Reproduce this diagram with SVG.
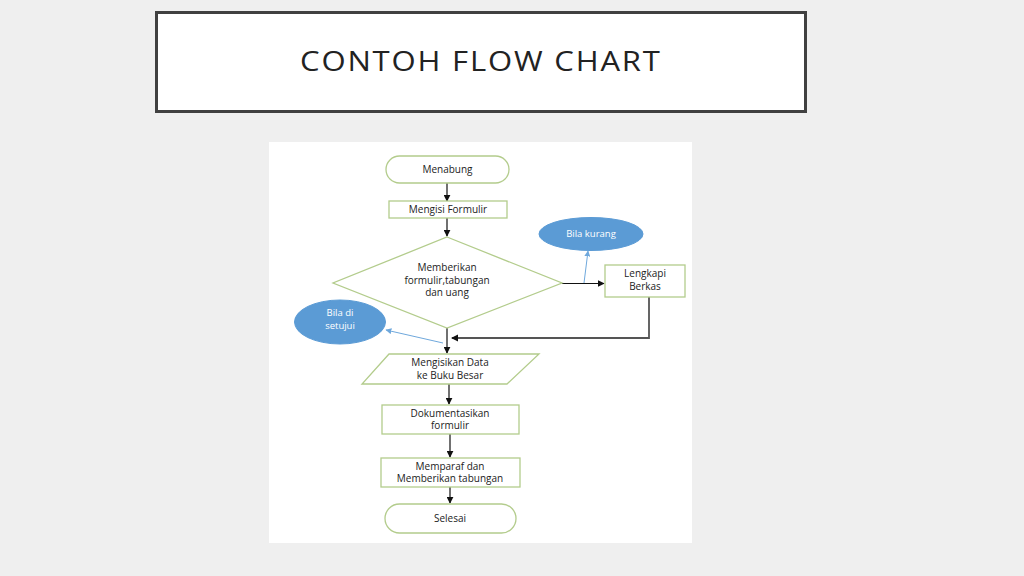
<svg xmlns="http://www.w3.org/2000/svg" width="1024" height="576" viewBox="0 0 1024 576">
<defs>
<marker id="ab" viewBox="0 0 10 10" refX="9" refY="5" markerWidth="7" markerHeight="7" markerUnits="userSpaceOnUse" orient="auto"><path d="M0,0 L10,5 L0,10 z" fill="#111"/></marker>
<marker id="ablue" viewBox="0 0 10 10" refX="9" refY="5" markerWidth="6" markerHeight="6" markerUnits="userSpaceOnUse" orient="auto"><path d="M0,0 L10,5 L0,10 z" fill="#6fa8dc"/></marker>
</defs>
<style>
.shape{fill:#fff;stroke:#b3cc8c;stroke-width:1.3}
.oval{fill:#5b9bd5;stroke:#5b9bd5}
.t{font-family:"Open Sans","Liberation Sans",sans-serif;font-size:10px;fill:#222;text-anchor:middle}
.tw{font-family:"Open Sans","Liberation Sans",sans-serif;font-size:9.5px;fill:#fff;text-anchor:middle}
.c{fill:none;stroke:#111;stroke-width:1.2}
.cg{fill:none;stroke:#555;stroke-width:1.8}
.cb{fill:none;stroke:#6fa8dc;stroke-width:1}
</style>
<rect x="0" y="0" width="1024" height="576" fill="#efefef"/>
<g id="title">
<rect x="156.5" y="12.5" width="649" height="99" fill="#fff" stroke="#404040" stroke-width="3"/>
<text transform="translate(480,71) scale(1.15,1)" x="0" y="0" font-family="'Open Sans',Lato,sans-serif" font-size="27" fill="#222" text-anchor="middle" textLength="313" lengthAdjust="spacing">CONTOH FLOW CHART</text>
</g>
<rect x="269" y="142" width="423" height="401" fill="#fff"/>
<g id="connectors">
<line class="c" x1="447" y1="183" x2="447" y2="201" marker-end="url(#ab)"/>
<line class="c" x1="447" y1="218" x2="447" y2="236" marker-end="url(#ab)"/>
<line class="c" x1="562" y1="283.5" x2="604" y2="283.5" marker-end="url(#ab)"/>
<polyline class="cg" points="649,297 649,338 452,338"/>
<path d="M451,338 L458,334.5 L458,341.5 z" fill="#111"/>
<line class="c" x1="447" y1="328" x2="447" y2="353" marker-end="url(#ab)"/>
<line class="cb" x1="584" y1="283" x2="588" y2="251" marker-end="url(#ablue)"/>
<line class="cb" x1="443" y1="343" x2="386" y2="330" marker-end="url(#ablue)"/>
<line class="c" x1="449" y1="384" x2="449" y2="404" marker-end="url(#ab)"/>
<line class="c" x1="450" y1="434" x2="450" y2="457" marker-end="url(#ab)"/>
<line class="c" x1="450" y1="487" x2="450" y2="503" marker-end="url(#ab)"/>
</g>
<g id="menabung">
<rect class="shape" x="386" y="156" width="123" height="27" rx="13.5"/>
<text class="t" x="447.5" y="172.5">Menabung</text>
</g>
<g id="mengisi-formulir">
<rect class="shape" x="389" y="201" width="118" height="17"/>
<text class="t" x="448" y="213">Mengisi Formulir</text>
</g>
<g id="memberikan">
<polygon class="shape" points="447,237 562,283 447,328 333,283"/>
<text class="t" x="447" y="271">Memberikan</text>
<text class="t" x="447" y="283.5">formulir,tabungan</text>
<text class="t" x="447" y="296">dan uang</text>
</g>
<g id="lengkapi">
<rect class="shape" x="605" y="265" width="80" height="32"/>
<text class="t" x="645" y="277">Lengkapi</text>
<text class="t" x="645" y="290">Berkas</text>
</g>
<g id="bila-kurang">
<ellipse class="oval" cx="591" cy="234" rx="52" ry="16.5"/>
<text class="tw" x="591" y="237">Bila kurang</text>
</g>
<g id="bila-setujui">
<ellipse class="oval" cx="340" cy="322" rx="45.5" ry="22"/>
<text class="tw" x="340" y="315.5">Bila di</text>
<text class="tw" x="340" y="329">setujui</text>
</g>
<g id="mengisikan-data">
<polygon class="shape" points="389,354 539,354 507,384 362,384"/>
<text class="t" x="450" y="366">Mengisikan Data</text>
<text class="t" x="450" y="379">ke Buku Besar</text>
</g>
<g id="dokumentasikan">
<rect class="shape" x="382" y="405" width="137" height="29"/>
<text class="t" x="450" y="417">Dokumentasikan</text>
<text class="t" x="450" y="429">formulir</text>
</g>
<g id="memparaf">
<rect class="shape" x="381" y="458" width="139" height="29"/>
<text class="t" x="450" y="470">Memparaf dan</text>
<text class="t" x="450" y="482">Memberikan tabungan</text>
</g>
<g id="selesai">
<rect class="shape" x="385" y="504" width="131" height="29" rx="14.5"/>
<text class="t" x="450" y="521.5">Selesai</text>
</g>
</svg>
